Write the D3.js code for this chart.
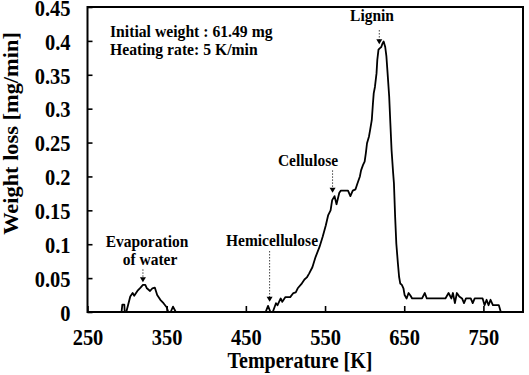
<!DOCTYPE html>
<html>
<head>
<meta charset="utf-8">
<script src="https://cdn.jsdelivr.net/npm/d3@7"></script>
<style>
  body { margin: 0; background: #fff; }
  text { font-family: "Liberation Serif", "Times New Roman", serif; font-weight: bold; fill: #000; }
</style>
</head>
<body>
<svg id="chart" width="529" height="375"></svg>
<script>
// temperature [K] and weight loss [mg/min]
const temps = [
  293, 294, 296.5, 297, 299, 304, 307, 309, 313, 317, 320, 323, 325, 329, 332, 335,
  338, 342, 346, 350, 352, 355, 358, 361.5, 475, 478, 481, 484, 488, 490, 494, 496,
  500, 506, 510, 513, 515.5, 520, 524, 527, 530, 534, 538, 543, 547, 551, 554, 557,
  559, 562, 564.5, 568, 570, 579, 582, 585, 588.5, 591, 594, 595.5, 598, 600, 601.5,
  603, 605.5, 607, 609, 610.5, 611.5, 613, 615, 616, 617.5, 619, 621, 622.5, 624,
  626, 627.5, 629, 631, 632.5, 634, 636, 637, 638.5, 640, 642, 643.5, 645, 647, 649,
  650.5, 653, 655.5, 658, 660, 672.5, 676, 678.5, 702, 706, 709.5, 711.5, 714, 716.5,
  719.5, 723, 725.5, 728, 734, 736.5, 739, 749, 751.5, 754, 756.5, 759, 762, 769.5, 772
];
const loss = [
  0, 0.011, 0.011, 0, 0, 0.023, 0.028, 0.024, 0.031, 0.036, 0.040, 0.040, 0.035, 0.031, 0.035, 0.036,
  0.025, 0.018, 0.013, 0.007, 0, 0, 0.008, 0, 0, 0.009, 0, 0, 0.013, 0.010, 0.020, 0.015,
  0.022, 0.022, 0.028, 0.029, 0.035, 0.041, 0.048, 0.051, 0.057, 0.066, 0.081, 0.096, 0.111, 0.128, 0.143, 0.150,
  0.165, 0.171, 0.159, 0.176, 0.179, 0.179, 0.171, 0.179, 0.181, 0.190, 0.200, 0.209, 0.217, 0.222, 0.234,
  0.249, 0.259, 0.269, 0.283, 0.308, 0.323, 0.332, 0.352, 0.372, 0.387, 0.389, 0.391, 0.396, 0.399,
  0.391, 0.377, 0.352, 0.318, 0.278, 0.239, 0.205, 0.190, 0.141, 0.101, 0.072, 0.052, 0.042, 0.040, 0.035,
  0.025, 0.020, 0.028, 0.024, 0.020, 0.020, 0.028, 0.020, 0.020, 0.028, 0.020, 0.028, 0.013, 0.028,
  0.023, 0.020, 0.013, 0.020, 0.020, 0.013, 0.020, 0.020, 0.010, 0.018, 0.010, 0.018, 0.010, 0.010, 0
];
const xTicks = [250, 350, 450, 550, 650, 750];
const yTicks = [0, 0.05, 0.1, 0.15, 0.2, 0.25, 0.3, 0.35, 0.4, 0.45];
const yTickLabels = ['0', '0.05', '0.1', '0.15', '0.2', '0.25', '0.3', '0.35', '0.4', '0.45'];

// annotation labels (text, arrow x in K, arrow from/to in mg/min)
const peakNames = ['Evaporation', 'Hemicellulose', 'Cellulose', 'Lignin'];
const peakTemps = [320, 480, 559.5, 618.5];
const arrowFrom = [0.063, 0.090, 0.209, 0.416];
const arrowTo = [0.044, 0.015, 0.176, 0.395];

const SY = 1.12; // the picture's text is a bit taller than wide
const margin = {top: 7, right: 6, bottom: 63, left: 87.5};
const W = 529, H = 375;
const width = W - margin.left - margin.right;
const height = H - margin.top - margin.bottom;

const svg = d3.select('#chart');
const g = svg.append('g')
  .attr('transform', 'translate(' + margin.left + ',' + margin.top + ')');

const x = d3.scaleLinear().domain([250, 800]).range([0, width]);
const y = d3.scaleLinear().domain([0, 0.45]).range([height, 0]);

function label(parent, tx, ty, str, size, anchor) {
  return parent.append('text')
    .attr('transform', 'translate(' + tx + ',' + ty + ') scale(1,' + SY + ')')
    .attr('text-anchor', anchor || 'start')
    .style('font-size', size + 'px')
    .text(str);
}

// y axis, ticks pointing inward
const yAxis = g.append('g')
  .call(d3.axisLeft(y).tickValues(yTicks).tickSize(-5).tickPadding(17)
    .tickFormat((d, i) => yTickLabels[i]));
yAxis.select('.domain').remove();
yAxis.selectAll('line').attr('stroke', '#000').attr('stroke-width', 1.6);
yAxis.selectAll('text')
  .style('font-size', '20.5px')
  .attr('dy', '0.36em')
  .attr('transform', 'scale(1,' + SY + ')');

// x axis
const xAxis = g.append('g')
  .attr('transform', 'translate(0,' + height + ')')
  .call(d3.axisBottom(x).tickValues(xTicks).tickSize(-6).tickFormat(d3.format('d')));
xAxis.select('.domain').remove();
xAxis.selectAll('line').attr('stroke', '#000').attr('stroke-width', 1.6);
xAxis.selectAll('text')
  .style('font-size', '20.5px')
  .attr('dy', null)
  .attr('y', 33 / SY)
  .attr('transform', 'scale(1,' + SY + ')');

// frame
g.append('rect')
  .attr('width', width).attr('height', height)
  .attr('fill', 'none').attr('stroke', '#000').attr('stroke-width', 2);

// curve
const line = d3.line()
  .x((d, i) => x(temps[i]))
  .y(d => y(d));
g.append('path')
  .datum(loss)
  .attr('d', line)
  .attr('fill', 'none')
  .attr('stroke', '#000')
  .attr('stroke-width', 1.8)
  .attr('stroke-linejoin', 'round');

// arrows
peakTemps.forEach((t, i) => {
  const ax = x(t), y0 = y(arrowFrom[i]), y1 = y(arrowTo[i]);
  g.append('line')
    .attr('x1', ax).attr('x2', ax).attr('y1', y0).attr('y2', y1 - 4)
    .attr('stroke', '#444').attr('stroke-width', 1).attr('stroke-dasharray', '1.5,1.5');
  g.append('path')
    .attr('d', 'M' + (ax - 3) + ',' + (y1 - 5) + 'L' + (ax + 3) + ',' + (y1 - 5) + 'L' + ax + ',' + y1 + 'Z')
    .attr('fill', '#000');
});

// peak labels
label(svg, 147, 247, 'Evaporation', 15.5, 'middle');
label(svg, 150, 265, 'of water', 15.5, 'middle');
label(svg, 272, 246, 'Hemicellulose', 15.5, 'middle');
label(svg, 308, 166, 'Cellulose', 15.5, 'middle');
label(svg, 372, 21, 'Lignin', 15.5, 'middle');

// conditions
label(svg, 110, 37, 'Initial weight : 61.49 mg', 15.7);
label(svg, 110, 55, 'Heating rate: 5 K/min', 15.7);

// axis titles
label(svg, 300, 368, 'Temperature [K]', 20, 'middle');
svg.append('text')
  .attr('transform', 'translate(17.5,133.5) rotate(-90) scale(' + SY + ',1)')
  .attr('text-anchor', 'middle')
  .style('font-size', '20px')
  .text('Weight loss [mg/min]');
</script>
</body>
</html>
